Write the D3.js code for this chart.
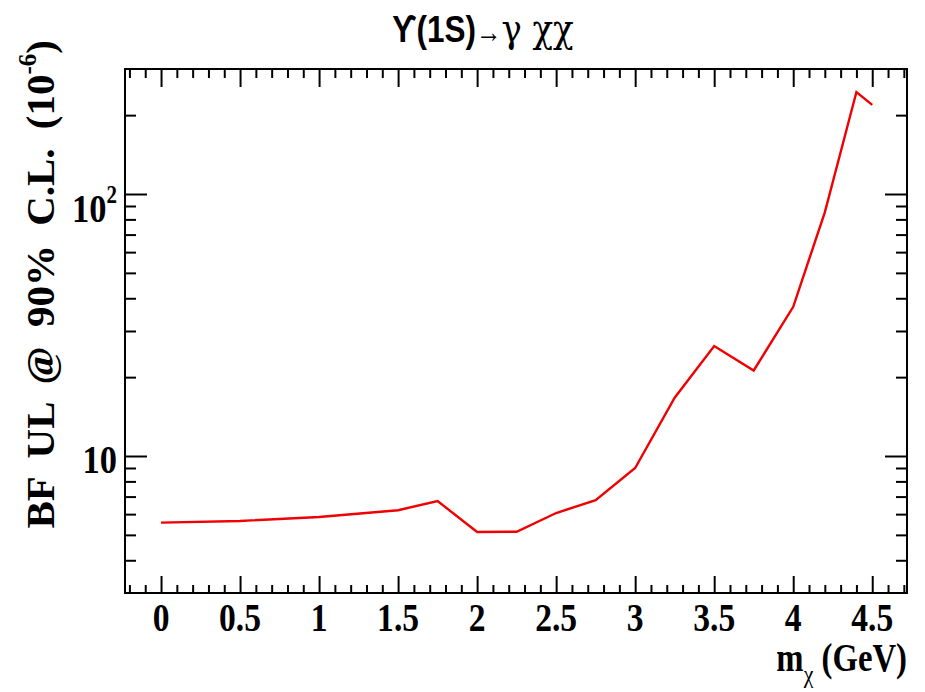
<!DOCTYPE html>
<html>
<head>
<meta charset="utf-8">
<script src="https://cdn.jsdelivr.net/npm/d3@7"></script>
<style>
  html, body { margin: 0; padding: 0; background: #fff; }
  svg { display: block; }
  .lbl { font-family: "Liberation Serif", "Times New Roman", serif; font-weight: bold; fill: #000; }
</style>
</head>
<body>
<svg id="chart" width="925" height="692"></svg>
<script>
// Upper limit on branching fraction vs. invisible particle mass
const massGeV = [0, 0.5, 1, 1.5, 1.75, 2, 2.25, 2.5, 2.75, 3, 3.25, 3.5, 3.75, 4, 4.2, 4.4, 4.5];
const bfUpperLimit = [5.57, 5.65, 5.85, 6.21, 6.73, 5.13, 5.14, 6.06, 6.78, 9.0, 16.7, 26.3, 21.2, 37.1, 85.1, 245, 219];

const xMajorTicks = [0, 0.5, 1, 1.5, 2, 2.5, 3, 3.5, 4, 4.5];
const xTickLabels = ["0", "0.5", "1", "1.5", "2", "2.5", "3", "3.5", "4", "4.5"];
const xMinorTicks = [-0.2, -0.1, 0.1, 0.2, 0.3, 0.4, 0.6, 0.7, 0.8, 0.9, 1.1, 1.2, 1.3, 1.4,
  1.6, 1.7, 1.8, 1.9, 2.1, 2.2, 2.3, 2.4, 2.6, 2.7, 2.8, 2.9, 3.1, 3.2, 3.3, 3.4,
  3.6, 3.7, 3.8, 3.9, 4.1, 4.2, 4.3, 4.4, 4.6, 4.7];
const yMajorTicks = [10, 100];
const yMinorTicks = [4, 5, 6, 7, 8, 9, 20, 30, 40, 50, 60, 70, 80, 90, 200];

const svg = d3.select("#chart");
const L = 125, R = 907, T = 69, B = 593;
const sx = 0.84; // horizontal squeeze of the bold serif labels

const x = d3.scaleLinear().domain([-0.228, 4.72]).range([L, R]);
const y = d3.scaleLog().domain([3, 300]).range([B, T]);

function tickAxis(gen, transform) {
  const g = svg.append("g").attr("transform", transform).call(gen);
  g.select(".domain").remove();
  g.selectAll("line").attr("stroke", "#000").attr("stroke-width", 2);
  g.selectAll("text").remove();
  return g;
}

// ticks on all four sides, pointing inward
tickAxis(d3.axisBottom(x).tickValues(xMajorTicks).tickSize(-17).tickFormat(""), `translate(0,${B})`);
tickAxis(d3.axisBottom(x).tickValues(xMinorTicks).tickSize(-8).tickFormat(""), `translate(0,${B})`);
tickAxis(d3.axisTop(x).tickValues(xMajorTicks).tickSize(-18).tickFormat(""), `translate(0,${T})`);
tickAxis(d3.axisTop(x).tickValues(xMinorTicks).tickSize(-9).tickFormat(""), `translate(0,${T})`);
tickAxis(d3.axisLeft(y).tickValues(yMajorTicks).tickSize(-22).tickFormat(""), `translate(${L},0)`);
tickAxis(d3.axisLeft(y).tickValues(yMinorTicks).tickSize(-11).tickFormat(""), `translate(${L},0)`);
tickAxis(d3.axisRight(y).tickValues(yMajorTicks).tickSize(-22).tickFormat(""), `translate(${R},0)`);
tickAxis(d3.axisRight(y).tickValues(yMinorTicks).tickSize(-11).tickFormat(""), `translate(${R},0)`);

// frame
svg.append("rect")
  .attr("x", L).attr("y", T).attr("width", R - L).attr("height", B - T)
  .attr("fill", "none").attr("stroke", "#000").attr("stroke-width", 2);

// x tick labels
svg.append("g").selectAll("text").data(xMajorTicks).join("text")
  .attr("class", "lbl")
  .attr("font-size", 40)
  .attr("text-anchor", "middle")
  .attr("transform", d => `translate(${x(d)},${631}) scale(${sx},1)`)
  .text((d, i) => xTickLabels[i]);

// y tick labels
const yl = svg.append("g");
yl.append("text").attr("class", "lbl").attr("font-size", 41).attr("text-anchor", "end")
  .attr("transform", `translate(117,${y(10) + 17}) scale(${sx},1)`).text("10");
const y100 = yl.append("text").attr("class", "lbl").attr("font-size", 41).attr("text-anchor", "end")
  .attr("transform", `translate(117,${y(100) + 28}) scale(${sx},1)`);
y100.append("tspan").text("10");
y100.append("tspan").attr("font-size", 25).attr("dy", -19).text("2");

// y title
const yt = svg.append("text").attr("class", "lbl").attr("font-size", 41).attr("text-anchor", "end")
  .attr("word-spacing", 9)
  .attr("transform", `translate(54,40) rotate(-90)`);
yt.append("tspan").text("BF UL @ 90% C.L. (10");
yt.append("tspan").attr("font-size", 25).attr("dy", -18).text("-6");
yt.append("tspan").attr("dy", 18).text(")");

// x title
const xt = svg.append("text").attr("class", "lbl").attr("font-size", 39).attr("text-anchor", "end")
  .attr("transform", `translate(907,671) scale(${sx},1)`);
xt.append("tspan").text("m");
xt.append("tspan").attr("font-size", 26).attr("font-weight", "normal").attr("dy", 12).text("χ");
xt.append("tspan").attr("dy", -12).text(" (GeV)");

// title
const tt = svg.append("text").attr("text-anchor", "middle")
  .attr("transform", `translate(483,42) scale(0.85,1)`)
  .attr("font-size", 37);
tt.append("tspan").attr("font-family", "'Liberation Sans', Arial, sans-serif").attr("font-weight", "bold").text("ϒ(1S)");
tt.append("tspan").attr("font-family", "'Liberation Serif', serif").attr("font-size", 30).text("→");
tt.append("tspan").attr("font-family", "'DejaVu Serif', serif").attr("font-size", 40).text("γ χχ");

// limit curve
const pts = massGeV.map((m, i) => [m, bfUpperLimit[i]]);
svg.append("path")
  .datum(pts)
  .attr("fill", "none")
  .attr("stroke", "#f00000")
  .attr("stroke-width", 2.4)
  .attr("stroke-linejoin", "miter")
  .attr("d", d3.line().x(d => x(d[0])).y(d => y(d[1])));
</script>
</body>
</html>
